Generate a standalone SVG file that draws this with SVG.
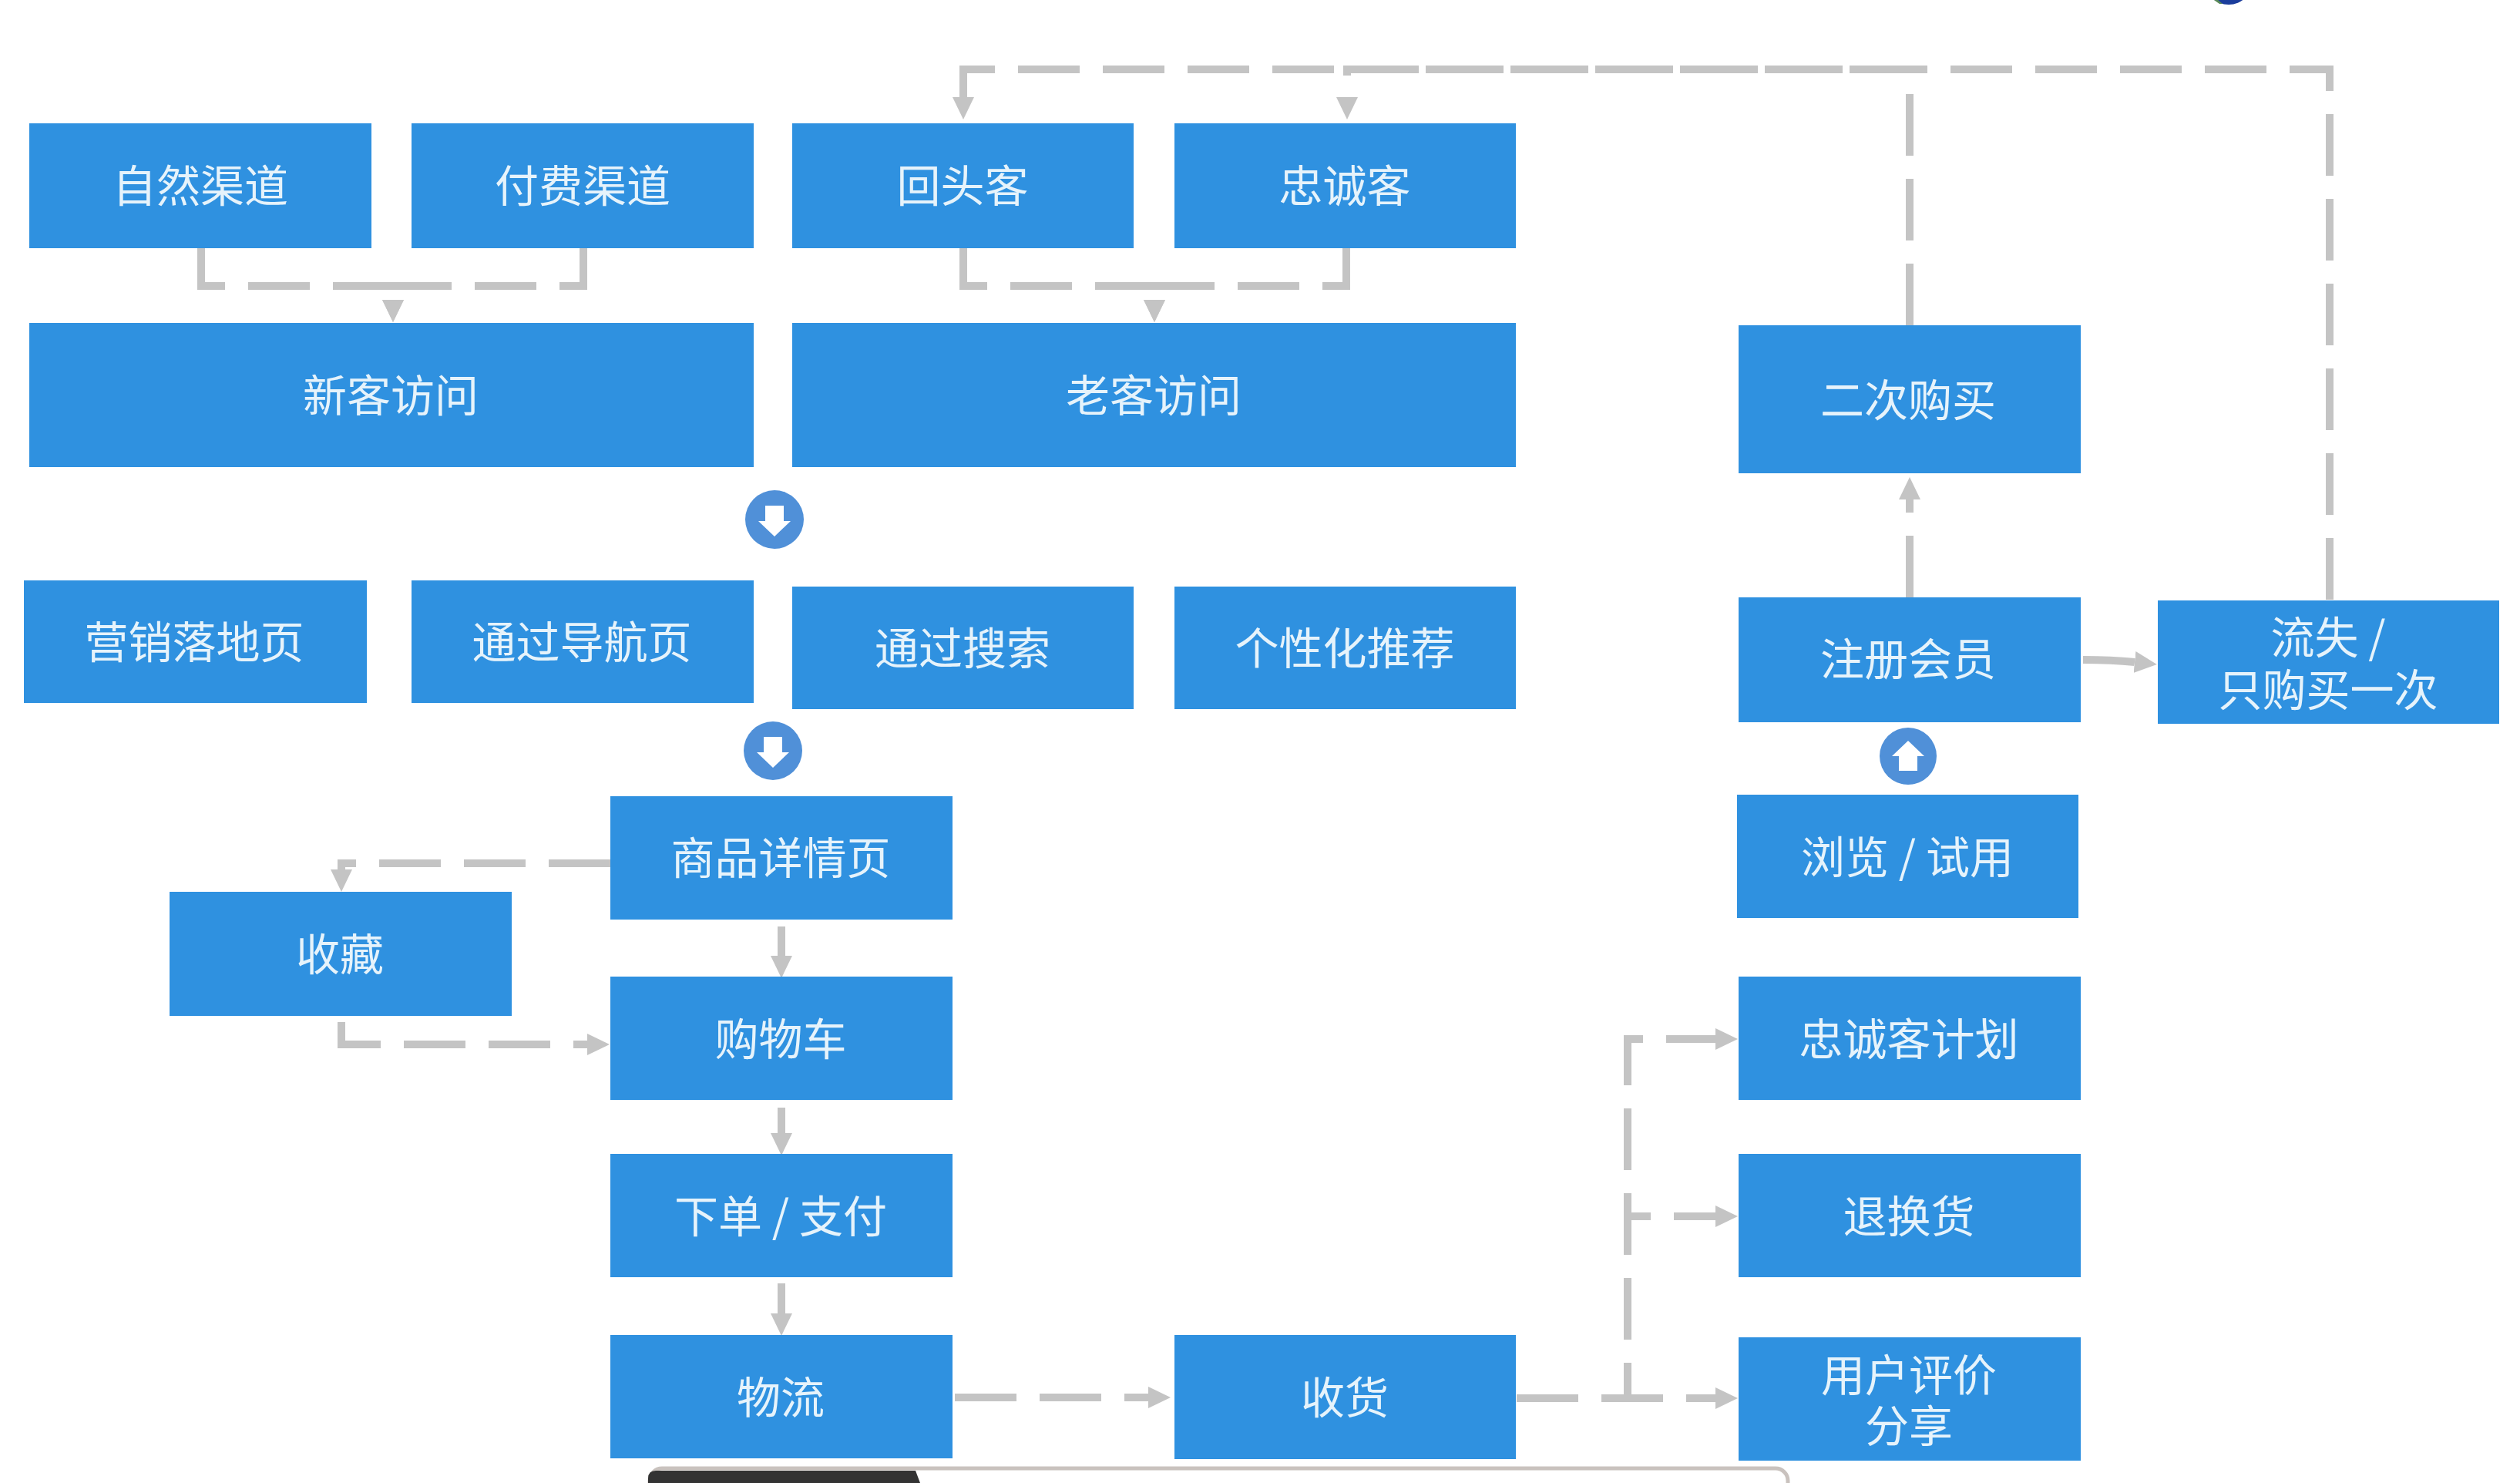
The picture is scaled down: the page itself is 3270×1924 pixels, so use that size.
<svg xmlns="http://www.w3.org/2000/svg" width="3270" height="1924" viewBox="0 0 3270 1924">
<style>
.b{fill:#2f91e0}
.t{font-family:"Noto Sans CJK SC","Noto Sans",sans-serif;font-size:57px;fill:#e6f3fb;text-anchor:middle}
.c{fill:none;stroke:#c4c4c4;stroke-width:10}
.d{stroke-dasharray:80 30}
.a{marker-end:url(#ah)}
.o{fill:#5090d8}
.w{fill:#fff}
</style>
<defs>
<marker id="ah" markerUnits="userSpaceOnUse" markerWidth="32" markerHeight="30" refX="0" refY="15" orient="auto"><path d="M0,1 L29,15 L0,29 Z" fill="#c4c4c4"/></marker>
</defs>
<rect width="3270" height="1924" fill="#fff"/>
<g id="connectors">
<path class="c d a" d="M3023,778 V90 H1250 V126"/>
<path class="c d a" d="M2478,422 V90 H1748 V126"/>
<path class="c d a" d="M261,322 V371 H510 V389"/>
<path class="c d a" d="M757,322 V371 H510 V389"/>
<path class="c d a" d="M1250,322 V371 H1498 V389"/>
<path class="c d a" d="M1747,322 V371 H1498 V389"/>
<path class="c d a" d="M792,1120 H443 V1128"/>
<path class="c d a" d="M443,1326 V1355 H762"/>
<path class="c a" d="M1014,1202 V1240"/>
<path class="c a" d="M1014,1437 V1470"/>
<path class="c a" d="M1014,1665 V1704"/>
<path class="c d a" d="M1239,1813 H1490"/>
<path class="c d a" d="M1968,1814 H2226"/>
<path class="c d a" d="M1968,1814 H2112 V1348 H2226"/>
<path class="c d a" d="M1968,1814 H2112 V1578 H2226"/>
<path class="c d a" d="M2478,775 V648"/>
<path class="c a" d="M2703,856 Q2740,856 2770,859"/>
</g>
<g id="n1"><rect class="b" x="38" y="160" width="444" height="162"/><text class="t" x="260" y="262">自然渠道</text></g>
<g id="n2"><rect class="b" x="534" y="160" width="444" height="162"/><text class="t" x="756" y="262">付费渠道</text></g>
<g id="n3"><rect class="b" x="1028" y="160" width="443" height="162"/><text class="t" x="1249" y="262">回头客</text></g>
<g id="n4"><rect class="b" x="1524" y="160" width="443" height="162"/><text class="t" x="1745" y="262">忠诚客</text></g>
<g id="n5"><rect class="b" x="38" y="419" width="940" height="187"/><text class="t" x="507" y="534">新客访问</text></g>
<g id="n6"><rect class="b" x="1028" y="419" width="939" height="187"/><text class="t" x="1497" y="534">老客访问</text></g>
<g id="c1"><circle class="o" cx="1005" cy="674" r="38"/><path class="w" d="M993,656 H1017 V676 H1026 L1005,696 L984,676 H993 Z"/></g>
<g id="n7"><rect class="b" x="31" y="753" width="445" height="159"/><text class="t" x="252" y="854">营销落地页</text></g>
<g id="n8"><rect class="b" x="534" y="753" width="444" height="159"/><text class="t" x="755" y="854">通过导航页</text></g>
<g id="n9"><rect class="b" x="1028" y="761" width="443" height="159"/><text class="t" x="1249" y="862">通过搜索</text></g>
<g id="n10"><rect class="b" x="1524" y="761" width="443" height="159"/><text class="t" x="1745" y="862">个性化推荐</text></g>
<g id="c2"><circle class="o" cx="1003" cy="974" r="38"/><path class="w" d="M991,956 H1015 V976 H1024 L1003,996 L982,976 H991 Z"/></g>
<g id="n11"><rect class="b" x="792" y="1033" width="444" height="160"/><text class="t" x="1013" y="1134">商品详情页</text></g>
<g id="n12"><rect class="b" x="220" y="1157" width="444" height="161"/><text class="t" x="441" y="1259">收藏</text></g>
<g id="n13"><rect class="b" x="792" y="1267" width="444" height="160"/><text class="t" x="1013" y="1369">购物车</text></g>
<g id="n14"><rect class="b" x="792" y="1497" width="444" height="160"/><text class="t" x="1013" y="1599">下单 / 支付</text></g>
<g id="n15"><rect class="b" x="792" y="1732" width="444" height="160"/><text class="t" x="1013" y="1834">物流</text></g>
<g id="n16"><rect class="b" x="1524" y="1732" width="443" height="161"/><text class="t" x="1745" y="1834">收货</text></g>
<g id="n17"><rect class="b" x="2256" y="1267" width="444" height="160"/><text class="t" x="2477" y="1369">忠诚客计划</text></g>
<g id="n18"><rect class="b" x="2256" y="1497" width="444" height="160"/><text class="t" x="2477" y="1599">退换货</text></g>
<g id="n19"><rect class="b" x="2256" y="1735" width="444" height="160"/><text class="t" x="2477" y="1805">用户评价</text><text class="t" x="2477" y="1871">分享</text></g>
<g id="n20"><rect class="b" x="2254" y="1031" width="443" height="160"/><text class="t" x="2475" y="1133">浏览 / 试用</text></g>
<g id="c3"><circle class="o" cx="2476" cy="981" r="37"/><path class="w" d="M2464,1000 H2488 V981 H2497 L2476,961 L2455,981 H2464 Z"/></g>
<g id="n21"><rect class="b" x="2256" y="775" width="444" height="162"/><text class="t" x="2476" y="876">注册会员</text></g>
<g id="n22"><rect class="b" x="2800" y="779" width="443" height="160"/><text class="t" x="3021" y="848">流失 /</text><text class="t" x="3021" y="916">只购买一次</text></g>
<g id="n23"><rect class="b" x="2256" y="422" width="444" height="192"/><text class="t" x="2476" y="540">二次购买</text></g>
<g id="bar"><rect x="843" y="1905" width="1477" height="60" rx="16" fill="#fff" stroke="#c9c2be" stroke-width="5"/><path d="M841,1924 V1918 Q841,1908 851,1908 H1188 L1194,1924 Z" fill="#333"/></g>
<g id="globe"><circle cx="2892" cy="-25" r="31" fill="#1b3d9c"/><path d="M2870,-2 L2880,5 L2884,5 L2876,-2 Z" fill="#5b8a5a"/></g>
</svg>
